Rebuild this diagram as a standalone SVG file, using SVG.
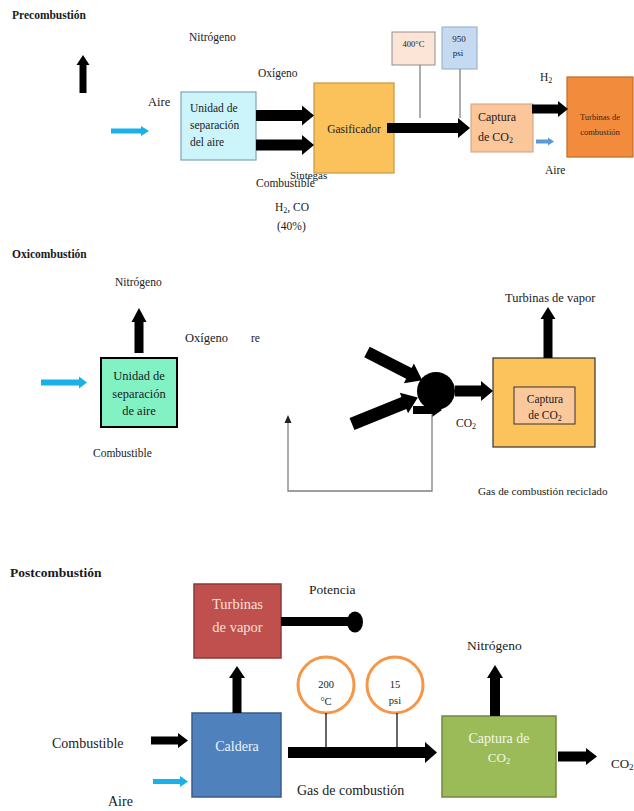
<svg xmlns="http://www.w3.org/2000/svg" width="634" height="811" viewBox="0 0 634 811" font-family="'Liberation Serif', 'DejaVu Serif', serif">
<style>
text{font-family:'Liberation Serif','DejaVu Serif',serif;fill:#1a1a1a}
.h{font-weight:bold}
.c{text-anchor:middle}
.blk{fill:#000}
.cyan{fill:#1ab0e8}
.gline{stroke:#808080;stroke-width:1.3;fill:none}
.bline{stroke:#000;stroke-width:1.2;fill:none}
.ring{fill:#fff;stroke:#f79646;stroke-width:3}
</style>
<rect width="634" height="811" fill="#fff"/>

<!-- Section titles -->
<text class="h" x="12" y="19" font-size="11.5">Precombustión</text>
<text class="h" x="12" y="258" font-size="11.5">Oxicombustión</text>
<text class="h" x="10" y="577" font-size="13.5">Postcombustión</text>

<!-- ===== Precombustión ===== -->
<g id="pre-labels" font-size="11.5">
  <text x="189" y="41">Nitrógeno</text>
  <text x="258" y="77">Oxígeno</text>
  <text x="148" y="106" font-size="12.5">Aire</text>
  <text x="290" y="179" font-size="11">Sintegas</text>
  <text x="256" y="187">Combustible</text>
  <text x="275" y="211">H<tspan font-size="8" dy="2">2</tspan><tspan dy="-2">, CO</tspan></text>
  <text x="277" y="230">(40%)</text>
  <text x="540" y="81">H<tspan font-size="8" dy="2">2</tspan></text>
  <text x="545" y="174">Aire</text>
</g>
<g id="pre-asu">
  <rect x="181" y="92" width="75" height="68" fill="#ccf4fb" stroke="#7fa3b3" stroke-width="1.2"/>
  <text x="190" y="112" font-size="11.5">Unidad de</text>
  <text x="190" y="129" font-size="11.5">separación</text>
  <text x="190" y="146" font-size="11.5">del aire</text>
</g>
<g id="pre-gasificador">
  <rect x="314" y="83" width="80" height="90" fill="#fbc25c" stroke="#c7963f" stroke-width="1.2"/>
  <text class="c" x="354" y="133" font-size="11.5">Gasificador</text>
</g>
<g id="pre-temp">
  <rect x="392" y="32" width="43" height="33" fill="#fce4d6" stroke="#8f8f8f" stroke-width="1"/>
  <text class="c" x="413.5" y="47" font-size="8.5">400°C</text>
</g>
<g id="pre-pres">
  <rect x="442" y="27" width="35" height="42" fill="#c5d9f1" stroke="#8ea9c8" stroke-width="1"/>
  <text class="c" x="459" y="42" font-size="9">950</text>
  <text class="c" x="458" y="56" font-size="9">psi</text>
</g>
<g id="pre-captura">
  <rect x="471" y="104" width="62" height="48" fill="#fbc699" stroke="#c9a080" stroke-width="1"/>
  <text x="478" y="121" font-size="12">Captura</text>
  <text x="478" y="141" font-size="12">de CO<tspan font-size="8" dy="2">2</tspan></text>
</g>
<g id="pre-turbinas">
  <rect x="567" y="77" width="66" height="80" fill="#f28c3c" stroke="#c06a28" stroke-width="1.2"/>
  <text class="c" x="600" y="120" font-size="8.5" style="fill:#3a2510">Turbinas de</text>
  <text class="c" x="600" y="135" font-size="8.5" style="fill:#3a2510">combustión</text>
</g>

<!-- ===== Oxicombustión ===== -->
<g id="oxy-labels" font-size="11.5">
  <text x="115" y="286">Nitrógeno</text>
  <text x="185" y="342" font-size="12.5">Oxígeno</text>
  <text x="251" y="342">re</text>
  <text x="93" y="457">Combustible</text>
  <text x="505" y="302" font-size="12.5">Turbinas de vapor</text>
  <text x="456" y="427">CO<tspan font-size="8" dy="2">2</tspan></text>
  <text x="478" y="495" font-size="11.2">Gas de combustión reciclado</text>
</g>
<g id="oxy-asu">
  <rect x="101" y="358" width="76" height="69" fill="#82f2c4" stroke="#000" stroke-width="2"/>
  <text class="c" x="139" y="380" font-size="12.5">Unidad de</text>
  <text class="c" x="139" y="398" font-size="12.5">separación</text>
  <text class="c" x="139" y="415" font-size="12.5">de aire</text>
</g>
<g id="oxy-mixer">
  <circle cx="436" cy="391" r="19" fill="#000"/>
</g>
<g id="oxy-box">
  <rect x="493" y="358" width="102" height="89" fill="#fcc35d" stroke="#333" stroke-width="1.2"/>
  <rect x="514" y="387" width="61" height="37" fill="#fbc89b" stroke="#333" stroke-width="1"/>
  <text class="c" x="545" y="403" font-size="11.5">Captura</text>
  <text class="c" x="545" y="419" font-size="11.5">de CO<tspan font-size="8" dy="2">2</tspan></text>
</g>

<!-- ===== Postcombustión ===== -->
<g id="post-labels" font-size="14">
  <text x="309" y="594" font-size="13.5">Potencia</text>
  <text x="52" y="748">Combustible</text>
  <text x="108" y="806">Aire</text>
  <text x="297" y="795">Gas de combustión</text>
  <text x="467" y="650" font-size="13.5">Nitrógeno</text>
  <text x="611" y="768" font-size="13">CO<tspan font-size="9" dy="2">2</tspan></text>
</g>
<g id="post-turbinas">
  <rect x="194" y="584" width="87" height="74" fill="#c0504d" stroke="#8c3a38" stroke-width="1.5"/>
  <text class="c" x="237.5" y="609" font-size="14.5" style="fill:#f6e0df">Turbinas</text>
  <text class="c" x="237.5" y="632" font-size="14.5" style="fill:#f6e0df">de vapor</text>
</g>
<g id="post-caldera">
  <rect x="192" y="713" width="89" height="84" fill="#4f81bd" stroke="#385d8a" stroke-width="1.5"/>
  <text class="c" x="237" y="751" font-size="14" style="fill:#eef3fb">Caldera</text>
</g>
<g id="post-temp">
  <circle class="ring" cx="326" cy="685" r="28"/>
  <text class="c" x="326" y="688" font-size="10.5">200</text>
  <text class="c" x="326" y="705" font-size="10.5">°C</text>
</g>
<g id="post-pres">
  <circle class="ring" cx="395" cy="685" r="28"/>
  <text class="c" x="395" y="688" font-size="10.5">15</text>
  <text class="c" x="395" y="704" font-size="10.5">psi</text>
</g>
<g id="post-captura">
  <rect x="442" y="716" width="114" height="81" fill="#9bbb59" stroke="#71893f" stroke-width="1.5"/>
  <text class="c" x="499" y="743" font-size="14" style="fill:#f3f7e6">Captura de</text>
  <text class="c" x="499" y="762" font-size="13" style="fill:#f3f7e6">CO<tspan font-size="9" dy="2">2</tspan></text>
</g>

<!-- ===== Connectors ===== -->
<g id="connectors">
  <polygon class="blk" points="79.5,93 79.5,65 76.5,65 83,55 89.5,65 86.5,65 86.5,93"/>
  <polygon class="cyan" points="111,128.5 141,128.5 141,126 149,131 141,136 141,133.5 111,133.5"/>
  <polygon class="blk" points="256,110 302,110 302,105.5 314,115.5 302,125.5 302,121 256,121"/>
  <polygon class="blk" points="256,139.5 302,139.5 302,135 314,145 302,155 302,150.5 256,150.5"/>
  <polygon class="blk" points="387,123 458,123 458,118 470,128 458,138 458,133 387,133"/>
  <line class="gline" x1="420" y1="65" x2="420" y2="118"/>
  <line class="gline" x1="460" y1="69" x2="460" y2="118"/>
  <polygon class="blk" points="532,104.5 558,104.5 558,101 568,109 558,117 558,113.5 532,113.5"/>
  <polygon fill="#5b9bd5" points="536,139.5 548,139.5 548,137.5 554,141.5 548,145.5 548,143.5 536,143.5"/>

  <polygon class="blk" points="134.5,353 134.5,322 131.5,322 139,308 146.5,322 143.5,322 143.5,353"/>
  <polygon class="cyan" points="41,379.5 79,379.5 79,376.5 87,382.5 79,388.5 79,385.5 41,385.5"/>
  <polygon class="blk" transform="translate(367,352) rotate(27)" points="0,-6 47,-6 47,-11 62,0 47,11 47,6 0,6"/>
  <polygon class="blk" transform="translate(352,424) rotate(-22)" points="0,-6.5 56,-6.5 56,-11 71,0 56,11 56,6.5 0,6.5"/>
  <polygon class="blk" points="413,406 432,406 432,403 442,410 432,417 432,414 413,414"/>
  <polygon class="blk" points="455,385.5 481,385.5 481,381 493,391 481,401 481,396.5 455,396.5"/>
  <polygon class="blk" points="543.5,358 543.5,319 540.5,319 548,307 555.5,319 552.5,319 552.5,358"/>
  <polyline class="gline" points="432,414 432,491 288,491 288,422"/>
  <polygon fill="#222" points="284.5,423 288,415 291.5,423"/>

  <rect class="blk" x="281" y="617" width="70" height="9"/>
  <ellipse class="blk" cx="355" cy="622" rx="8" ry="10.5"/>
  <polygon class="blk" points="232.5,713 232.5,678 229,678 237,666 245,678 241.5,678 241.5,713"/>
  <polygon class="blk" points="151,736.5 178,736.5 178,733 188,740.5 178,748 178,744.5 151,744.5"/>
  <polygon class="cyan" points="153,779 180,779 180,776 188,781.5 180,787 180,784 153,784"/>
  <polygon class="blk" points="288,747 425,747 425,742 437,752.5 425,763 425,758 288,758"/>
  <line class="bline" x1="326" y1="713" x2="326" y2="747"/>
  <line class="bline" x1="397" y1="713" x2="397" y2="747"/>
  <polygon class="blk" points="490,716 490,678 487,678 495,665 503,678 500,678 500,716"/>
  <polygon class="blk" points="558,751.5 586,751.5 586,748 597,756.5 586,765 586,761.5 558,761.5"/>
</g>
</svg>
